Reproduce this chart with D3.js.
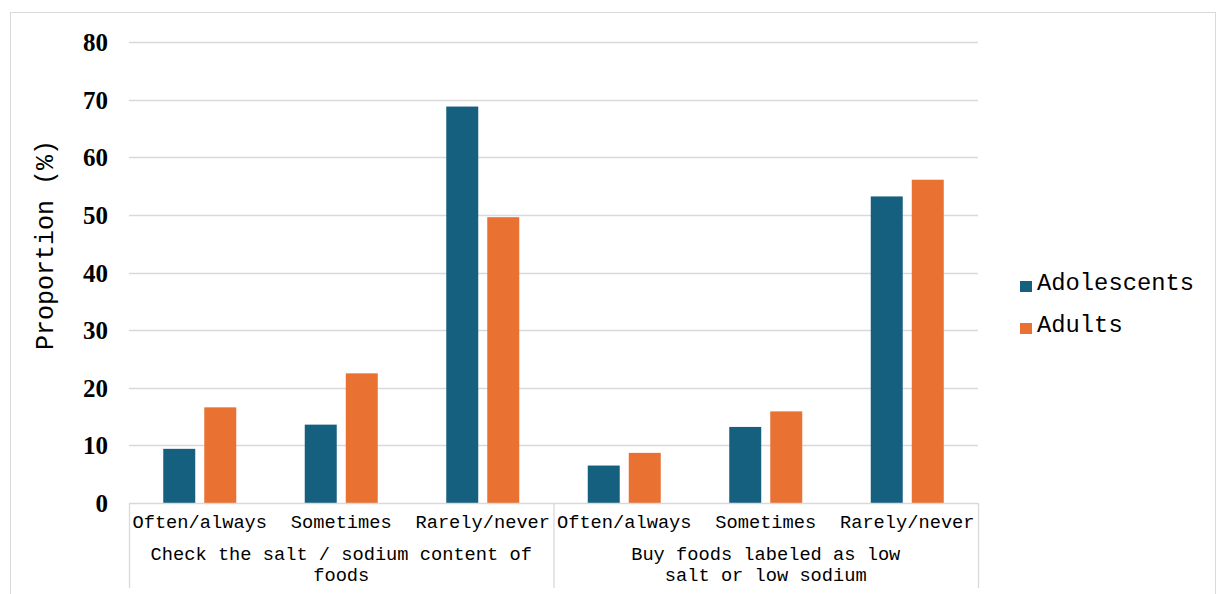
<!DOCTYPE html>
<html>
<head>
<meta charset="utf-8">
<script src="https://cdn.jsdelivr.net/npm/d3@7"></script>
<style>
  html, body { margin: 0; padding: 0; background: #fff; }
  svg { display: block; }
</style>
</head>
<body>
<svg id="chart" width="1217" height="594"></svg>
<script>
// Survey responses on salt-related behaviours, by age group (%)
const groups = [
  ["Check the salt / sodium content of", "foods"],
  ["Buy foods labeled as low", "salt or low sodium"]
];
const responses = ["Often/always", "Sometimes", "Rarely/never"];
const seriesNames = ["Adolescents", "Adults"];
const adolescents = [9.4, 13.6, 68.8, 6.5, 13.2, 53.2];
const adults = [16.6, 22.5, 49.6, 8.7, 15.9, 56.1];
const yTicks = [0, 10, 20, 30, 40, 50, 60, 70, 80];
const colors = ["#16607f", "#e97132"];

const svg = d3.select("#chart");
const margin = { left: 129, right: 978, top: 42, bottom: 503 };
const mono = "'Courier New', 'Nimbus Mono PS', 'FreeMono', 'Liberation Mono', monospace";
const serif = "'Times New Roman', 'Liberation Serif', serif";

// outer frame
svg.append("rect")
  .attr("x", 10.5).attr("y", 12.5)
  .attr("width", 1205).attr("height", 600)
  .attr("fill", "none").attr("stroke", "#d9d9d9").attr("stroke-width", 1);

// category keys: one per group/response combination
const cats = [];
groups.forEach((g, gi) => responses.forEach((r, ri) => cats.push(gi + "|" + ri)));

const x = d3.scaleBand().domain(cats).range([margin.left, margin.right]);
const y = d3.scaleLinear().domain([0, 80]).range([margin.bottom, margin.top]);
// the pair of bars sits in the middle of each category slot
const pairW = 73;
const inner = d3.scaleBand().domain(seriesNames)
  .range([x.bandwidth() / 2 - pairW / 2, x.bandwidth() / 2 + pairW / 2])
  .paddingInner(0.22).paddingOuter(0);

// gridlines
svg.append("g").selectAll("line").data(yTicks.filter(t => t > 0)).join("line")
  .attr("x1", margin.left).attr("x2", margin.right)
  .attr("y1", d => Math.round(y(d)) + 0.5).attr("y2", d => Math.round(y(d)) + 0.5)
  .attr("stroke", "#d9d9d9").attr("stroke-width", 1.3);

// y axis tick labels
const yAxis = d3.axisLeft(y).tickValues(yTicks).tickSize(0).tickPadding(0);
const ya = svg.append("g").attr("transform", `translate(${margin.left - 21},0)`).call(yAxis);
ya.select(".domain").remove();
ya.selectAll("text")
  .attr("font-family", serif).attr("font-weight", "bold").attr("font-size", 25)
  .attr("fill", "#000").attr("dy", "0.34em");

// y axis title
svg.append("text")
  .attr("transform", "translate(53,245) rotate(-90)")
  .attr("text-anchor", "middle")
  .attr("font-family", mono).attr("font-size", 25).attr("fill", "#000")
  .text("Proportion (%)");

// bars
const data = cats.map((c, i) => ({ cat: c, values: [adolescents[i], adults[i]] }));
const barG = svg.append("g");
data.forEach(d => {
  d.values.forEach((v, si) => {
    barG.append("rect")
      .attr("x", x(d.cat) + inner(seriesNames[si]))
      .attr("y", y(v))
      .attr("width", inner.bandwidth())
      .attr("height", y(0) - y(v))
      .attr("fill", colors[si]);
  });
});

// x axis baseline and group separators
const axisG = svg.append("g");
axisG.append("line")
  .attr("x1", margin.left).attr("x2", margin.right)
  .attr("y1", margin.bottom + 0.5).attr("y2", margin.bottom + 0.5)
  .attr("stroke", "#d9d9d9").attr("stroke-width", 1.3);
const sepX = [margin.left, x(cats[3]), margin.right];
axisG.selectAll("line.sep").data(sepX).join("line").attr("class", "sep")
  .attr("x1", d => d + 0.5).attr("x2", d => d + 0.5)
  .attr("y1", margin.bottom).attr("y2", 588)
  .attr("stroke", "#d9d9d9").attr("stroke-width", 1.3);

// response labels
axisG.selectAll("text.resp").data(cats).join("text").attr("class", "resp")
  .attr("x", d => x(d) + x.bandwidth() / 2)
  .attr("y", 528)
  .attr("text-anchor", "middle")
  .attr("font-family", mono).attr("font-size", 18.7).attr("fill", "#000")
  .text(d => responses[+d.split("|")[1]]);

// group labels
groups.forEach((lines, gi) => {
  const cx = (sepX[gi] + sepX[gi + 1]) / 2;
  lines.forEach((ln, li) => {
    axisG.append("text")
      .attr("x", cx).attr("y", 560 + li * 21)
      .attr("text-anchor", "middle")
      .attr("font-family", mono).attr("font-size", 18.7).attr("fill", "#000")
      .text(ln);
  });
});

// legend
const leg = svg.append("g");
seriesNames.forEach((name, i) => {
  const ly = 290 + i * 42;
  leg.append("rect").attr("x", 1020).attr("y", ly - 9).attr("width", 12).attr("height", 11).attr("fill", colors[i]);
  leg.append("text").attr("x", 1037).attr("y", ly)
    .attr("font-family", mono).attr("font-size", 23.8).attr("fill", "#000")
    .text(name);
});
</script>
</body>
</html>
